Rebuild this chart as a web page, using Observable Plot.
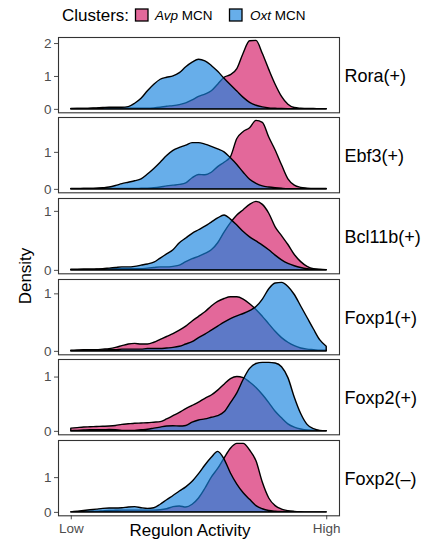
<!DOCTYPE html>
<html><head><meta charset="utf-8">
<script src="https://cdn.jsdelivr.net/npm/d3@7"></script>
<script src="https://cdn.jsdelivr.net/npm/@observablehq/plot@0.6"></script>
<style>
body{margin:0;background:#fff;}
#chart{position:relative;width:426px;height:542px;font-family:"Liberation Sans",Arial,sans-serif;overflow:hidden;}
#chart > svg, #chart > .panel{position:absolute;left:0;}
</style></head><body><div id="chart"></div>
<script>
// Regulon activity grid (Low = 0, High = 1)
const activity = [0,0.025,0.05,0.075,0.1,0.125,0.15,0.175,0.2,0.225,0.25,0.275,0.3,0.325,0.35,0.375,0.4,0.425,0.45,0.475,0.5,0.525,0.55,0.575,0.6,0.625,0.65,0.675,0.7,0.725,0.75,0.775,0.8,0.825,0.85,0.875,0.9,0.925,0.95,0.975,1];
const regulons = ["Rora(+)","Ebf3(+)","Bcl11b(+)","Foxp1(+)","Foxp2(+)","Foxp2(\u2013)"];
const clusters = ["Avp MCN","Oxt MCN"];
const xTickLabels = ["Low","High"];

// Densities, Avp MCN
const avpRora   = [0.01,0.01,0.01,0.01,0.015,0.02,0.02,0.02,0.02,0.02,0.02,0.02,0.02,0.03,0.05,0.08,0.1,0.13,0.18,0.27,0.38,0.45,0.55,0.75,0.96,1.04,1.22,1.7,2.07,2.08,1.68,1.2,0.75,0.38,0.14,0.04,0.02,0.01,0.01,0.005,0.005];
const avpEbf3   = [0.01,0.01,0.01,0.01,0.01,0.01,0.01,0.01,0.01,0.01,0.01,0.015,0.02,0.03,0.05,0.08,0.1,0.12,0.16,0.3,0.39,0.38,0.45,0.6,0.72,0.87,1.36,1.55,1.65,1.85,1.8,1.4,1.05,0.65,0.27,0.1,0.04,0.02,0.01,0.01,0.01];
const avpBcl11b = [0.01,0.01,0.01,0.01,0.01,0.01,0.015,0.02,0.02,0.02,0.02,0.02,0.03,0.04,0.05,0.05,0.06,0.08,0.14,0.19,0.23,0.28,0.34,0.46,0.64,0.8,0.93,1.02,1.11,1.16,1.11,0.96,0.73,0.58,0.43,0.26,0.14,0.06,0.02,0.01,0.005];
const avpFoxp1  = [0.01,0.015,0.02,0.02,0.02,0.03,0.04,0.06,0.09,0.12,0.13,0.12,0.12,0.15,0.2,0.25,0.3,0.36,0.43,0.52,0.6,0.68,0.78,0.86,0.91,0.94,0.94,0.9,0.82,0.72,0.6,0.47,0.34,0.23,0.15,0.09,0.05,0.03,0.02,0.01,0.01];
const avpFoxp2p = [0.05,0.06,0.07,0.075,0.08,0.085,0.09,0.1,0.12,0.13,0.14,0.145,0.15,0.16,0.17,0.22,0.28,0.34,0.41,0.47,0.53,0.6,0.66,0.75,0.86,0.96,1.0,0.98,0.9,0.8,0.67,0.52,0.36,0.24,0.13,0.07,0.035,0.015,0.01,0.005,0.005];
const avpFoxp2m = [0,0.005,0.01,0.015,0.02,0.03,0.04,0.045,0.05,0.05,0.05,0.05,0.05,0.05,0.06,0.09,0.15,0.17,0.14,0.22,0.4,0.68,1.0,1.25,1.55,1.83,1.97,1.97,1.78,1.47,0.85,0.4,0.18,0.08,0.035,0.015,0.005,0,0,0,0];

// Densities, Oxt MCN
const oxtRora   = [0.005,0.01,0.01,0.02,0.03,0.04,0.05,0.05,0.05,0.07,0.17,0.32,0.55,0.75,0.9,0.96,1.0,1.1,1.28,1.42,1.51,1.46,1.32,1.14,0.93,0.73,0.54,0.35,0.2,0.11,0.06,0.03,0.02,0.01,0.005,0.005,0.005,0.005,0.005,0.005,0.005];
const oxtEbf3   = [0.005,0.005,0.01,0.01,0.015,0.03,0.05,0.09,0.14,0.18,0.22,0.27,0.4,0.55,0.72,0.9,1.04,1.12,1.18,1.25,1.25,1.21,1.15,1.08,1.0,0.84,0.66,0.45,0.26,0.15,0.08,0.05,0.03,0.015,0.005,0.005,0.005,0.005,0.005,0.005,0.005];
const oxtBcl11b = [0.005,0.005,0.01,0.01,0.015,0.02,0.03,0.04,0.05,0.05,0.06,0.08,0.1,0.13,0.2,0.27,0.34,0.46,0.54,0.62,0.68,0.74,0.81,0.88,0.93,0.86,0.76,0.65,0.56,0.49,0.42,0.34,0.25,0.17,0.11,0.07,0.04,0.02,0.01,0.005,0.005];
const oxtFoxp1  = [0.005,0.005,0.01,0.01,0.01,0.015,0.02,0.02,0.03,0.03,0.03,0.03,0.04,0.04,0.04,0.05,0.06,0.08,0.12,0.16,0.23,0.29,0.36,0.43,0.5,0.56,0.61,0.65,0.7,0.77,0.9,1.08,1.18,1.19,1.12,0.98,0.78,0.58,0.38,0.19,0.08];
const oxtFoxp2p = [0.005,0.01,0.015,0.02,0.02,0.02,0.025,0.02,0.01,0.01,0.01,0.02,0.03,0.05,0.07,0.09,0.095,0.09,0.1,0.16,0.2,0.22,0.25,0.28,0.35,0.52,0.7,0.95,1.15,1.24,1.26,1.26,1.25,1.18,0.98,0.62,0.32,0.12,0.04,0.01,0.005];
const oxtFoxp2m = [0,0.02,0.04,0.06,0.08,0.1,0.11,0.11,0.12,0.14,0.15,0.12,0.1,0.12,0.22,0.35,0.47,0.6,0.72,0.88,1.1,1.35,1.57,1.74,1.52,1.12,0.8,0.55,0.36,0.18,0.09,0.04,0.02,0.01,0.005,0,0,0,0,0,0];

const avpSeries = [avpRora, avpEbf3, avpBcl11b, avpFoxp1, avpFoxp2p, avpFoxp2m];
const oxtSeries = [oxtRora, oxtEbf3, oxtBcl11b, oxtFoxp1, oxtFoxp2p, oxtFoxp2m];

const pink = "#E3689A";
const blue = "rgb(22,131,223)";
const blueAlpha = 0.65;
const font = "'Liberation Sans', Arial, sans-serif";

const chart = document.getElementById("chart");

// Legend and axis titles
const W = 426, H = 542;
const over = d3.create("svg").attr("width", W).attr("height", H).style("top", "0px")
  .attr("font-family", font);
over.append("text").attr("x", 62).attr("y", 20.5).attr("font-size", 17).text("Clusters:");
const keyX = [135.5, 229.5], labX = [155, 250];
clusters.forEach((c, i) => {
  over.append("rect").attr("x", keyX[i]).attr("y", 9).attr("width", 12.5).attr("height", 12)
    .attr("fill", i === 0 ? pink : blue).attr("fill-opacity", i === 0 ? 1 : blueAlpha)
    .attr("stroke", "black").attr("stroke-width", 1.3);
  const [gene, rest] = [c.split(" ")[0], " " + c.split(" ").slice(1).join(" ")];
  const t = over.append("text").attr("x", labX[i]).attr("y", 20).attr("font-size", 13.5);
  t.append("tspan").attr("font-style", "italic").text(gene);
  t.append("tspan").text(rest);
});
over.append("text").attr("transform", "translate(30.5,276) rotate(-90)")
  .attr("text-anchor", "middle").attr("font-size", 17).text("Density");
over.append("text").attr("x", 190).attr("y", 535.5)
  .attr("text-anchor", "middle").attr("font-size", 17).text("Regulon Activity");
chart.appendChild(over.node());

// Panels
const panelH = 75.3, step = 80.66, firstTop = 36.7;
regulons.forEach((reg, i) => {
  const rows = [];
  activity.forEach((a, j) => {
    rows.push({activity: a, density: avpSeries[i][j], cluster: clusters[0]});
  });
  const oxtRows = activity.map((a, j) => ({activity: a, density: oxtSeries[i][j], cluster: clusters[1]}));
  const m = d3.max([...avpSeries[i], ...oxtSeries[i]]);
  const yTicks = d3.range(0, Math.floor(m) + 1);
  const last = i === regulons.length - 1;
  const mb = last ? 27 : 1;
  const p = Plot.plot({
    width: W,
    height: 1 + panelH + mb,
    marginLeft: 58, marginRight: 87, marginTop: 1, marginBottom: mb,
    style: {fontFamily: font, fontSize: "13.5px", color: "#4d4d4d", background: "transparent", overflow: "visible"},
    x: last
      ? {domain: [-0.05, 1.05], ticks: [0, 1], tickFormat: d => xTickLabels[d], tickSize: 4, tickPadding: 4, label: null}
      : {domain: [-0.05, 1.05], axis: null},
    y: {domain: [-0.05 * m, 1.05 * m], ticks: yTicks, tickFormat: d3.format("d"), tickSize: 4, tickPadding: 3, label: null},
    marks: [
      Plot.areaY(rows, {x: "activity", y: "density", curve: "monotone-x", fill: pink, stroke: "black", strokeWidth: 1.4}),
      Plot.areaY(oxtRows, {x: "activity", y: "density", curve: "monotone-x", fill: blue, fillOpacity: blueAlpha, stroke: "black", strokeWidth: 1.4}),
      Plot.frame({stroke: "#333", strokeWidth: 1.1}),
      Plot.text([reg], {frameAnchor: "right", textAnchor: "start", dx: 5, dy: 1.5, fontSize: 18, fill: "black"})
    ]
  });
  p.classList.add("panel");
  p.style.top = (firstTop + i * step - 1) + "px";
  chart.appendChild(p);
});
</script>
</body></html>
